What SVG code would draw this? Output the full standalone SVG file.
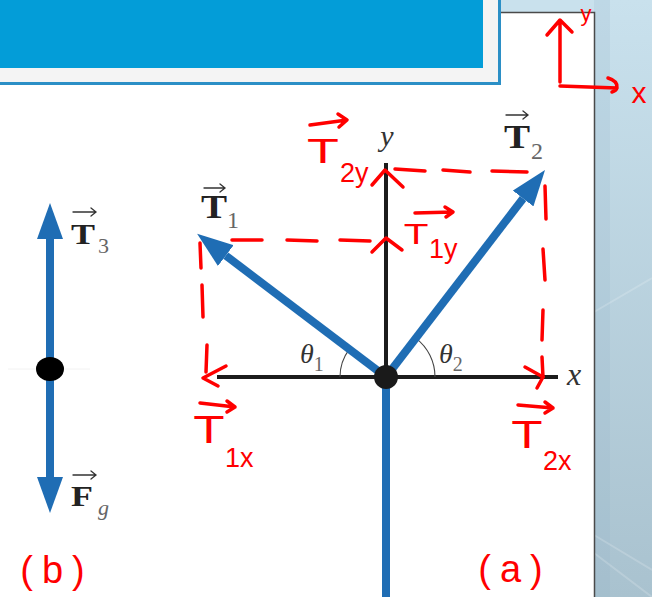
<svg xmlns="http://www.w3.org/2000/svg" width="652" height="597" viewBox="0 0 652 597">
<defs>
<linearGradient id="side" x1="0" y1="0" x2="0" y2="1">
<stop offset="0" stop-color="#c9e1ed"/>
<stop offset="1" stop-color="#a9c2cf"/>
</linearGradient>
<marker id="bh" viewBox="0 0 36 26" refX="0" refY="13" markerWidth="36" markerHeight="26" markerUnits="userSpaceOnUse" orient="auto">
<path d="M0,0 L36,13 L0,26 Z" fill="#1f6db4"/>
</marker>
</defs>
<style>
.blue{stroke:#1f6db4;stroke-width:8;fill:none}
.axis{stroke:#1c1c1c;stroke-width:4;fill:none}
.thin{stroke:#444;stroke-width:1.1;fill:none}
.vec{stroke:#333;stroke-width:1.3;fill:none;stroke-linecap:round}
.bold{font-family:"Liberation Serif",serif;font-weight:bold;fill:#222}
.sub{font-family:"Liberation Serif",serif;fill:#666}
.it{font-family:"Liberation Serif",serif;font-style:italic;fill:#333}
.hw{stroke:#ff0000;stroke-width:3.5;fill:none;stroke-linecap:round;stroke-linejoin:round}
.hwt{font-family:"Liberation Sans",sans-serif;fill:#ff0000}
</style>

<g id="slide-background">
<rect x="0" y="0" width="652" height="597" fill="#ffffff"/>
<rect x="501" y="0" width="151" height="12" fill="#c9e1ed"/>
<rect x="594" y="0" width="58" height="597" fill="url(#side)"/>
<rect x="594" y="0" width="16" height="597" fill="#8fb3c6" opacity="0.18"/>
<path d="M594,312 L652,278 M594,535 L652,570 M594,553 L652,597" stroke="#ffffff" stroke-width="2" opacity="0.18" fill="none"/>
<rect x="0" y="0" width="501" height="85" fill="#2b8fc6"/>
<rect x="0" y="0" width="498" height="82" fill="#f4f4f4"/>
<rect x="0" y="0" width="483" height="68" fill="#039dd8"/>
<path d="M501,12.5 L594.5,12.5 L594.5,597" stroke="#4a4a4a" stroke-width="1.5" fill="none"/>
</g>

<g id="figure-a">
<g id="axes">
<line class="axis" x1="386" y1="163" x2="386" y2="377"/>
<line class="axis" x1="217" y1="377" x2="558" y2="377"/>
<text class="it" x="387" y="146" font-size="30" text-anchor="middle">y</text>
<text class="it" x="567" y="385" font-size="32">x</text>
</g>
<g id="angles">
<path class="thin" d="M340,377 A46,46 0 0 1 349.2,349.4"/>
<path class="thin" d="M435,377 A49,49 0 0 0 415.8,338.1"/>
<text class="it" x="300" y="363" font-size="28">θ<tspan class="sub" font-style="normal" font-size="20" dy="8" fill="#444">1</tspan></text>
<text class="it" x="439" y="363" font-size="28">θ<tspan class="sub" font-style="normal" font-size="20" dy="8" fill="#444">2</tspan></text>
</g>
<g id="connectors">
<line class="blue" x1="386" y1="377" x2="225.8" y2="255.6" marker-end="url(#bh)"/>
<line class="blue" x1="386" y1="377" x2="523.1" y2="198.5" marker-end="url(#bh)"/>
<line class="blue" x1="386" y1="377" x2="386" y2="597"/>
</g>
<g id="origin">
<circle cx="386" cy="377" r="12" fill="#1a1a1a"/>
</g>
<g id="label-T1">
<path class="vec" d="M204,188 L225,188 M220,184 L225,188 L220,192"/>
<text class="bold" x="0" y="0" font-size="34" transform="translate(201,218) scale(1.15,1)">T</text>
<text class="sub" x="227" y="228" font-size="24">1</text>
</g>
<g id="label-T2">
<path class="vec" d="M506,115 L528,115 M523,111 L528,115 L523,119"/>
<text class="bold" x="0" y="0" font-size="34" transform="translate(504,148) scale(1.15,1)">T</text>
<text class="sub" x="531" y="159" font-size="24">2</text>
</g>
</g>

<g id="figure-b">
<line x1="8" y1="369" x2="90" y2="369" stroke="#f2f2f2" stroke-width="1"/>
<g id="connectors-b">
<line class="blue" x1="50" y1="369" x2="50" y2="239" marker-end="url(#bh)"/>
<line class="blue" x1="50" y1="369" x2="50" y2="477" marker-end="url(#bh)"/>
</g>
<g id="dot-b">
<ellipse cx="50" cy="369" rx="14" ry="12" fill="#000"/>
</g>
<g id="label-T3">
<path class="vec" d="M73,212 L96,212 M91,208 L96,212 L91,216"/>
<text class="bold" x="0" y="0" font-size="30" transform="translate(71,244) scale(1.2,1)">T</text>
<text class="sub" x="98" y="253" font-size="22">3</text>
</g>
<g id="label-Fg">
<path class="vec" d="M73,475 L96,475 M91,471 L96,475 L91,479"/>
<text class="bold" x="0" y="0" font-size="30" transform="translate(71,506) scale(1.2,1)">F</text>
<text class="sub" x="98" y="515" font-size="22" font-style="italic">g</text>
</g>
</g>

<g id="annotations">
<g id="dashes">
<path class="hw" d="M232,240 L262,240 M287,240 L317,241 M340,240 L370,241"/>
<path class="hw" d="M372,252 L386,238 L402,250"/>
<path class="hw" d="M200,243 L201,268 M202,285 L203,317 M207,345 L206,372"/>
<path class="hw" d="M226,366 L203,378 L218,386"/>
<path class="hw" d="M395,169 L425,171 M443,170 L470,172 M492,171 L527,172"/>
<path class="hw" d="M372,185 L385,170 L403,187"/>
<path class="hw" d="M545,186 L546,219 M543,249 L545,280 M543,310 L542,340 M542,357 L543,377"/>
<path class="hw" d="M525,367 L543,377 L537,388"/>
</g>
<g id="note-T2y">
<path class="hw" d="M310,125 L347,120 M338,114 L347,120 L339,127"/>
<text class="hwt" x="0" y="0" font-size="36" text-anchor="middle" transform="translate(323,163) scale(1.45,1)">T</text>
<text class="hwt" x="340" y="182" font-size="27">2y</text>
</g>
<g id="note-T1y">
<path class="hw" d="M415,213 L453,212 M445,207 L453,212 L446,217"/>
<text class="hwt" x="0" y="0" font-size="30" text-anchor="middle" transform="translate(416,244) scale(1.35,1)">T</text>
<text class="hwt" x="429" y="258" font-size="27">1y</text>
</g>
<g id="note-T1x">
<path class="hw" d="M200,403 L235,407 M227,401 L235,407 L227,412"/>
<text class="hwt" x="0" y="0" font-size="38" text-anchor="middle" transform="translate(209,443) scale(1.35,1)">T</text>
<text class="hwt" x="225" y="467" font-size="27">1x</text>
</g>
<g id="note-T2x">
<path class="hw" d="M518,405 L553,408 M545,402 L553,408 L545,413"/>
<text class="hwt" x="0" y="0" font-size="38" text-anchor="middle" transform="translate(527,448) scale(1.35,1)">T</text>
<text class="hwt" x="543" y="470" font-size="27">2x</text>
</g>
<g id="note-axes">
<path class="hw" d="M560,82 L560,22 M547,35 L560,20 L572,32"/>
<path class="hw" d="M560,86 L617,88 M608,78 Q618,81 617,88 Q616,91 612,92"/>
<text class="hwt" x="586" y="21" font-size="22" text-anchor="middle">y</text>
<text class="hwt" x="639" y="103" font-size="30" text-anchor="middle">x</text>
</g>
<text class="hwt" x="515" y="582" font-size="38" text-anchor="middle" letter-spacing="9">(a)</text>
<text class="hwt" x="57" y="583" font-size="38" text-anchor="middle" letter-spacing="9">(b)</text>
</g>
</svg>
